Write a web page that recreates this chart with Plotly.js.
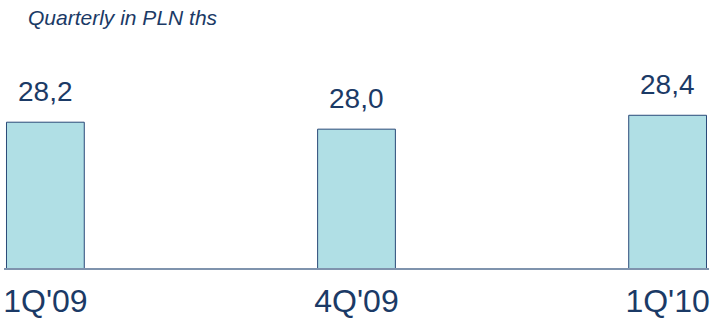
<!DOCTYPE html>
<html>
<head>
<meta charset="utf-8">
<script src="https://cdn.plot.ly/plotly-3.0.1.min.js"></script>
<style>html,body{margin:0;padding:0;background:#fff}#chart{width:725px;height:320px}</style>
</head>
<body>
<div id="chart"></div>
<script>
const categories = ["1Q'09", "4Q'09", "1Q'10"];
const values = [28.2, 28.0, 28.4];
const chartTitle = "Quarterly in PLN ths";

const textColor = "#1B3A66";
const fmt = v => v.toFixed(1).replace('.', ',');

const trace = {
  type: 'bar',
  x: categories,
  y: values,
  width: 0.25,
  marker: {color: '#B0DFE5', line: {color: '#2A4A78', width: 1}},
  hoverinfo: 'none'
};

const annotations = categories.map((c, i) => ({
  x: c, y: values[i], xref: 'x', yref: 'y',
  text: fmt(values[i]), showarrow: false,
  yanchor: 'bottom', yshift: 13,
  font: {family: 'Liberation Sans, Arial, sans-serif', size: 28, color: textColor}
}));

const layout = {
  width: 725, height: 320,
  margin: {l: 4, r: 16, t: 58, b: 52},
  paper_bgcolor: '#fff', plot_bgcolor: '#fff',
  showlegend: false,
  title: {
    text: chartTitle, xref: 'container', yref: 'container',
    x: 28/725, xanchor: 'left', y: 1 - 18/320, yanchor: 'middle',
    font: {family: 'Liberation Sans, Arial, sans-serif', size: 21, color: textColor, style: 'italic'}
  },
  xaxis: {
    type: 'category', range: [-0.133, 2.133],
    showline: true, linecolor: '#7F93AD', linewidth: 2,
    ticks: '', showgrid: false, zeroline: false,
    tickfont: {family: 'Liberation Sans, Arial, sans-serif', size: 32, color: textColor},
    ticklabelstandoff: 4
  },
  yaxis: {
    range: [24, 30.05], visible: false, showgrid: false, zeroline: false
  },
  annotations: annotations
};

Plotly.newPlot('chart', [trace], layout, {displayModeBar: false, staticPlot: true});
</script>
</body>
</html>
